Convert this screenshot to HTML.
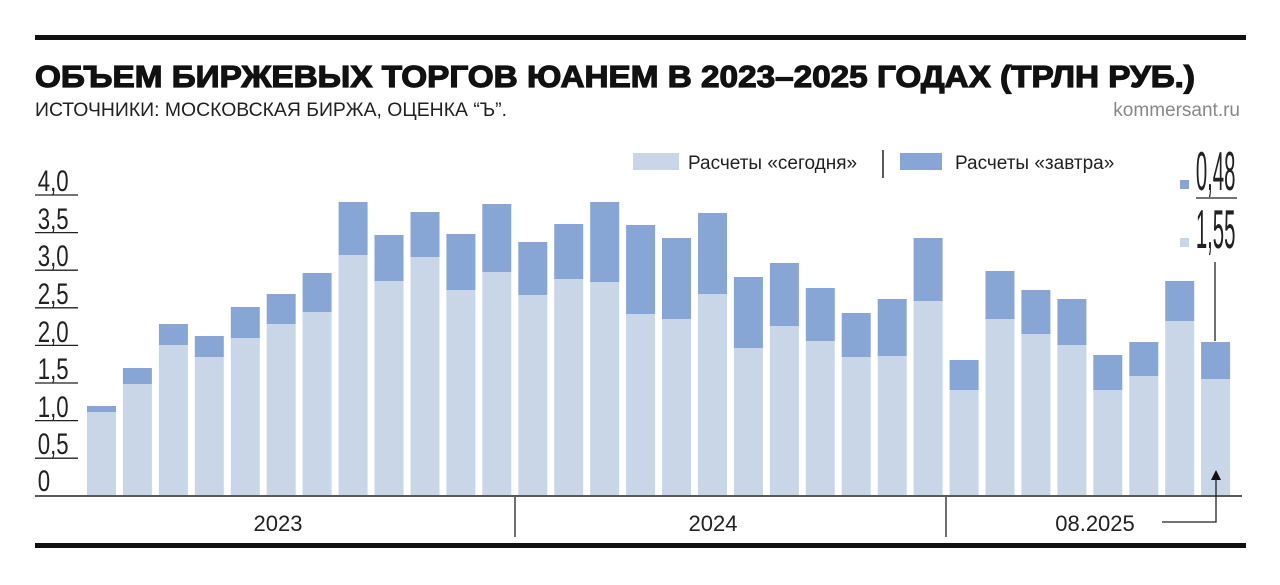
<!DOCTYPE html><html><head><meta charset="utf-8"><style>
body{margin:0;background:#fff;width:1280px;height:580px;overflow:hidden;font-family:"Liberation Sans",sans-serif}
</style></head><body>
<svg width="1280" height="580" xmlns="http://www.w3.org/2000/svg" font-family="Liberation Sans, sans-serif">
<rect x="35" y="35" width="1211" height="5" fill="#111"/>
<text x="35" y="87" font-size="31" font-weight="bold" fill="#111" textLength="1160" lengthAdjust="spacingAndGlyphs" stroke="#111" stroke-width="1.2">ОБЪЕМ БИРЖЕВЫХ ТОРГОВ ЮАНЕМ В 2023–2025 ГОДАХ (ТРЛН РУБ.)</text>
<text x="35" y="116" font-size="19" fill="#222" textLength="472" lengthAdjust="spacingAndGlyphs">ИСТОЧНИКИ: МОСКОВСКАЯ БИРЖА, ОЦЕНКА “Ъ”.</text>
<text x="1240" y="116" font-size="19" fill="#888" text-anchor="end">kommersant.ru</text>
<rect x="633" y="153" width="46" height="17" fill="#c9d6e8"/>
<text x="688" y="169" font-size="19" fill="#222">Расчеты «сегодня»</text>
<line x1="883" y1="150" x2="883" y2="178" stroke="#222" stroke-width="1.5"/>
<rect x="900" y="153" width="42" height="17" fill="#87a6d6"/>
<text x="955" y="169" font-size="19" fill="#222">Расчеты «завтра»</text>
<g font-size="30" fill="#222" transform="scale(0.74,1)">
<text x="51" y="191">4,0</text><text x="51" y="229">3,5</text><text x="51" y="266">3,0</text><text x="51" y="304">2,5</text><text x="51" y="342">2,0</text><text x="51" y="379">1,5</text><text x="51" y="417">1,0</text><text x="51" y="454">0,5</text><text x="51" y="491">0</text>
</g>
<g stroke="#222" stroke-width="1.3">
<line x1="35" y1="195" x2="78" y2="195"/><line x1="35" y1="232.6" x2="78" y2="232.6"/><line x1="35" y1="270.2" x2="78" y2="270.2"/><line x1="35" y1="307.8" x2="78" y2="307.8"/><line x1="35" y1="345.4" x2="78" y2="345.4"/><line x1="35" y1="383" x2="78" y2="383"/><line x1="35" y1="420.6" x2="78" y2="420.6"/><line x1="35" y1="458.2" x2="78" y2="458.2"/>
</g>
<g fill="#c9d6e8">
<rect x="87" y="412" width="29" height="83"/>
<rect x="122.9" y="384" width="29" height="111"/>
<rect x="158.9" y="345" width="29" height="150"/>
<rect x="194.8" y="357" width="29" height="138"/>
<rect x="230.8" y="338" width="29" height="157"/>
<rect x="266.7" y="324" width="29" height="171"/>
<rect x="302.6" y="312" width="29" height="183"/>
<rect x="338.6" y="255" width="29" height="240"/>
<rect x="374.5" y="281" width="29" height="214"/>
<rect x="410.5" y="257" width="29" height="238"/>
<rect x="446.4" y="290" width="29" height="205"/>
<rect x="482.3" y="272" width="29" height="223"/>
<rect x="518.3" y="295" width="29" height="200"/>
<rect x="554.2" y="279" width="29" height="216"/>
<rect x="590.2" y="282" width="29" height="213"/>
<rect x="626.1" y="314" width="29" height="181"/>
<rect x="662" y="319" width="29" height="176"/>
<rect x="698" y="294" width="29" height="201"/>
<rect x="733.9" y="348" width="29" height="147"/>
<rect x="769.9" y="326" width="29" height="169"/>
<rect x="805.8" y="341" width="29" height="154"/>
<rect x="841.7" y="357" width="29" height="138"/>
<rect x="877.7" y="356" width="29" height="139"/>
<rect x="913.6" y="301" width="29" height="194"/>
<rect x="949.6" y="390" width="29" height="105"/>
<rect x="985.5" y="319" width="29" height="176"/>
<rect x="1021.4" y="334" width="29" height="161"/>
<rect x="1057.4" y="345" width="29" height="150"/>
<rect x="1093.3" y="390" width="29" height="105"/>
<rect x="1129.3" y="376" width="29" height="119"/>
<rect x="1165.2" y="321" width="29" height="174"/>
<rect x="1201.1" y="379" width="29" height="116"/>
</g>
<g fill="#87a6d6">
<rect x="87" y="406" width="29" height="6"/>
<rect x="122.9" y="368" width="29" height="16"/>
<rect x="158.9" y="324" width="29" height="21"/>
<rect x="194.8" y="336" width="29" height="21"/>
<rect x="230.8" y="307" width="29" height="31"/>
<rect x="266.7" y="294" width="29" height="30"/>
<rect x="302.6" y="273" width="29" height="39"/>
<rect x="338.6" y="202" width="29" height="53"/>
<rect x="374.5" y="235" width="29" height="46"/>
<rect x="410.5" y="212" width="29" height="45"/>
<rect x="446.4" y="234" width="29" height="56"/>
<rect x="482.3" y="204" width="29" height="68"/>
<rect x="518.3" y="242" width="29" height="53"/>
<rect x="554.2" y="224" width="29" height="55"/>
<rect x="590.2" y="202" width="29" height="80"/>
<rect x="626.1" y="225" width="29" height="89"/>
<rect x="662" y="238" width="29" height="81"/>
<rect x="698" y="213" width="29" height="81"/>
<rect x="733.9" y="277" width="29" height="71"/>
<rect x="769.9" y="263" width="29" height="63"/>
<rect x="805.8" y="288" width="29" height="53"/>
<rect x="841.7" y="313" width="29" height="44"/>
<rect x="877.7" y="299" width="29" height="57"/>
<rect x="913.6" y="238" width="29" height="63"/>
<rect x="949.6" y="360" width="29" height="30"/>
<rect x="985.5" y="271" width="29" height="48"/>
<rect x="1021.4" y="290" width="29" height="44"/>
<rect x="1057.4" y="299" width="29" height="46"/>
<rect x="1093.3" y="355" width="29" height="35"/>
<rect x="1129.3" y="342" width="29" height="34"/>
<rect x="1165.2" y="281" width="29" height="40"/>
<rect x="1201.1" y="342" width="29" height="37"/>
</g>
<line x1="35" y1="496" x2="1242" y2="496" stroke="#222" stroke-width="1.5"/>
<line x1="515" y1="497" x2="515" y2="537" stroke="#222" stroke-width="1.3"/>
<line x1="946" y1="497" x2="946" y2="537" stroke="#222" stroke-width="1.3"/>
<g font-size="22" fill="#222" text-anchor="middle">
<text x="278" y="531">2023</text><text x="713" y="531">2024</text><text x="1095" y="531">08.2025</text>
</g>
<polyline points="1162,522 1216,522 1216,478" fill="none" stroke="#222" stroke-width="1.3"/>
<polygon points="1211,480 1221,480 1216,470" fill="#111"/>
<line x1="1215" y1="262" x2="1215" y2="341" stroke="#222" stroke-width="1.3"/>
<rect x="1180" y="180" width="9" height="9" fill="#87a6d6"/>
<rect x="1180" y="238" width="9" height="9" fill="#c9d6e8"/>
<g font-size="55" fill="#222" transform="scale(0.37,1)">
<text x="3232" y="190">0,48</text><text x="3232" y="248">1,55</text>
</g>
<line x1="1196" y1="198" x2="1237" y2="198" stroke="#222" stroke-width="1.3"/>
<rect x="35" y="543" width="1211" height="5" fill="#111"/>
</svg>
</body></html>
